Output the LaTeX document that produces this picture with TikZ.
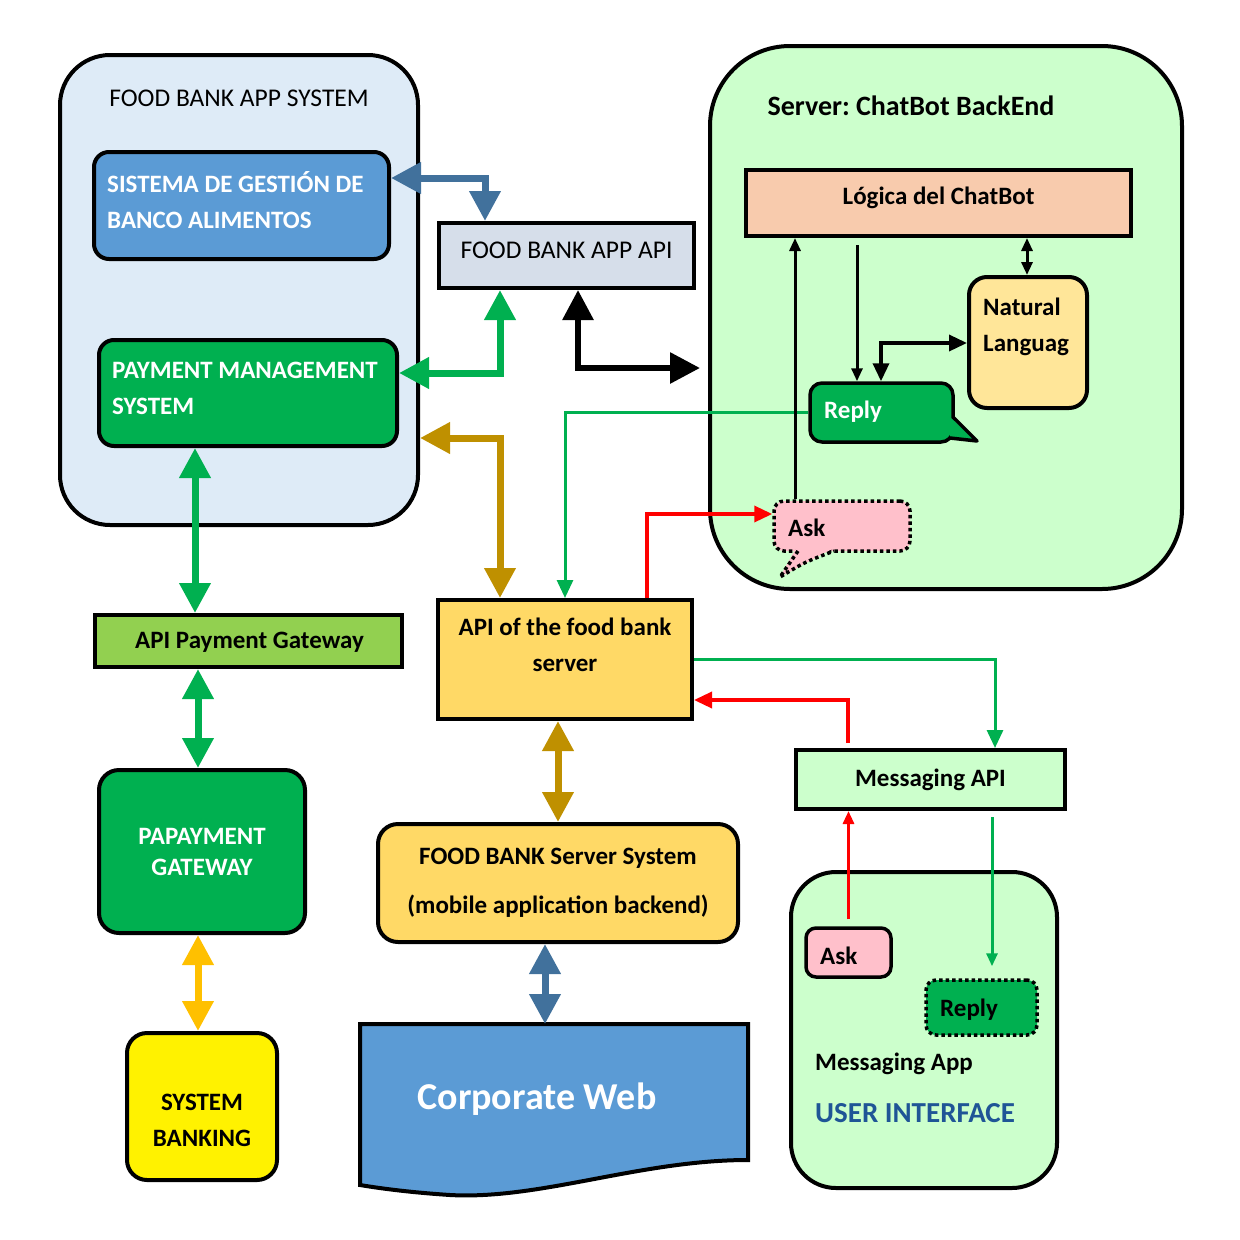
\documentclass[tikz,border=0pt]{standalone}
\usepackage{fontspec}
\setmainfont{Carlito}
\frenchspacing
\usetikzlibrary{arrows.meta}

\definecolor{appback}{RGB}{222,235,247}
\definecolor{chatback}{RGB}{204,255,204}
\definecolor{sysblue}{RGB}{91,155,213}
\definecolor{paygreen}{RGB}{0,176,80}
\definecolor{apigrey}{RGB}{214,222,234}
\definecolor{peach}{RGB}{248,203,173}
\definecolor{nlpyellow}{RGB}{255,230,153}
\definecolor{srvgold}{RGB}{255,217,102}
\definecolor{lime}{RGB}{146,208,80}
\definecolor{askpink}{RGB}{255,192,203}
\definecolor{linkblue}{RGB}{65,113,156}
\definecolor{linkgold}{RGB}{191,144,0}
\definecolor{linkyellow}{RGB}{255,192,0}
\definecolor{uiblue}{RGB}{31,85,150}

\begin{document}
\begin{tikzpicture}[x=1pt,y=-1pt,
  block/.style={draw,line width=4pt,inner sep=0pt},
  lbl/.style={inner sep=0pt,font=\fontsize{25}{36}\selectfont\bfseries},
  plain/.style={inner sep=0pt,font=\fontsize{25.5}{36}\selectfont},
  dots/.style={line width=3.5pt,dash pattern=on 3.5pt off 3pt},
  fat/.style={line width=7pt,>={Triangle[length=30pt,width=30pt]},<->},
  slim/.style={line width=3.5pt,>={Triangle[length=18pt,width=16pt]},->},
  fine/.style={line width=3pt,>={Triangle[length=13pt,width=11pt]},->}]
  \useasboundingbox (0,0) rectangle (1240,1240);

  \node[block,rounded corners=50pt,fill=appback,minimum width=358pt,minimum height=470pt] (appsys) at (239,290) {};
  \node[plain] (appsystxt) at (239,98) {FOOD BANK APP SYSTEM};
  \node[block,rounded corners=80pt,fill=chatback,minimum width=472pt,minimum height=543pt] (chatsrv) at (946,317.5) {};
  \node[lbl,font=\fontsize{28}{36}\selectfont\bfseries] (chatsrvtxt) at (911,106) {Server: ChatBot BackEnd};
  \node[block,rounded corners=45pt,fill=chatback,minimum width=266pt,minimum height=316pt] (msgapp) at (924,1030) {};
  \node[lbl,anchor=west] (msgapptxt) at (815,1064) {Messaging App};
  \node[lbl,anchor=west,text=uiblue,font=\fontsize{29}{30}\selectfont\bfseries] (uitxt) at (815,1113) {USER INTERFACE};

  \node[block,rounded corners=15pt,fill=sysblue,minimum width=295pt,minimum height=107pt] (sistema) at (241.5,205.5) {};
  \node[lbl,anchor=west,align=left,text=white] (sistematxt) at (107,200) {SISTEMA DE GESTIÓN DE\\BANCO ALIMENTOS};
  \node[block,rounded corners=15pt,fill=paygreen,minimum width=298pt,minimum height=106pt] (paymgmt) at (248,393) {};
  \node[lbl,anchor=west,align=left,text=white] (paymgmttxt) at (112,388) {PAYMENT MANAGEMENT\\SYSTEM};
  \node[block,fill=apigrey,minimum width=255pt,minimum height=65pt] (appapi) at (566.5,255.5) {};
  \node[plain] (appapitxt) at (566.5,250) {FOOD BANK APP API};

  \node[block,fill=peach,minimum width=385pt,minimum height=66pt] (logica) at (938.5,203) {};
  \node[lbl] (logicatxt) at (938.5,198) {Lógica del ChatBot};
  \node[block,rounded corners=18pt,fill=nlpyellow,minimum width=118pt,minimum height=131pt] (natural) at (1028,342.5) {};
  \node[lbl,anchor=west,align=left] (naturaltxt) at (983,327) {Natural\\Languag};
  \node[block,line width=3.5pt,rounded corners=12pt,fill=paygreen,minimum width=143pt,minimum height=59pt] (reply) at (881.5,412.5) {};
  \fill[paygreen] (950,417) -- (977,441) -- (951,438) -- (947,430) -- cycle;
  \draw[line width=3.5pt,line join=round] (953,417) -- (977,441) -- (950,438);
  \node[lbl,anchor=west,text=white] (replytxt) at (824,412) {Reply};
  \node[block,dots,rounded corners=10pt,fill=askpink,minimum width=136pt,minimum height=50pt] (ask) at (842,526) {};
  \fill[askpink] (796,548) -- (780,577) -- (834,548) -- cycle;
  \draw[dots] (798,551) -- (780,577) .. controls (805,562) .. (834,551);
  \node[lbl,anchor=west] (asktxt) at (788,528) {Ask};

  \node[block,fill=srvgold,minimum width=254pt,minimum height=119pt] (apisrv) at (565,659.5) {};
  \node[lbl,align=center] (apisrvtxt) at (565,645) {API of the food bank\\server};
  \node[block,fill=lime,minimum width=307pt,minimum height=52pt] (paygw) at (248.5,641) {};
  \node[lbl] (paygwtxt) at (249.5,642) {API Payment Gateway};
  \node[block,rounded corners=20pt,fill=paygreen,minimum width=206pt,minimum height=163pt,lbl,align=center,text=white,font=\fontsize{25}{31}\selectfont\bfseries] (papay) at (202,851.5) {PAPAYMENT\\GATEWAY};
  \node[block,rounded corners=20pt,fill=yellow,minimum width=150pt,minimum height=147pt] (banking) at (202,1106.5) {};
  \node[lbl,align=center] (bankingtxt) at (202,1120) {SYSTEM\\BANKING};
  \node[block,rounded corners=20pt,fill=srvgold,minimum width=360pt,minimum height=118pt,lbl,align=center,font=\fontsize{25}{49}\selectfont\bfseries] (srvsys) at (558,883) {FOOD BANK Server System\\(mobile application backend)};
  \draw[line width=4pt,fill=sysblue] (360,1024) -- (748,1024) -- (748,1160)
    .. controls (640,1160) and (540,1200) .. (450,1195)
    .. controls (420,1193) and (390,1190) .. (360,1185) -- cycle;
  \coordinate (corptop) at (545,1024);
  \node[lbl,text=white,font=\fontsize{38}{40}\selectfont\bfseries] (corptxt) at (537,1099) {Corporate Web};

  \node[block,fill=chatback,minimum width=269pt,minimum height=59pt,lbl] (msgapi) at (930.5,779.5) {Messaging API};
  \node[block,line width=3.5pt,rounded corners=10pt,fill=askpink,minimum width=85pt,minimum height=49pt] (askb) at (848.5,952.5) {};
  \node[lbl,anchor=west] (askbtxt) at (820,956) {Ask};
  \node[block,dots,rounded corners=10pt,fill=paygreen,minimum width=111pt,minimum height=55pt] (replyb) at (981.5,1007.5) {};
  \node[lbl,anchor=west] (replybtxt) at (940,1010) {Reply};

  \coordinate (b1) at (485,178);
  \coordinate (b2) at (500,373);
  \coordinate (b3) at (578,368);
  \coordinate (b4) at (500,438);
  \coordinate (b5) at (647,514);
  \coordinate (c1) at (795,370);
  \coordinate (c2) at (857,300);
  \coordinate (c3) at (881,343);
  \coordinate (c4) at (1027,260);
  \coordinate (c5) at (995,659);
  \coordinate (c6) at (848,700);
  \coordinate (c7) at (992,900);
  \coordinate (c8) at (195,530);
  \coordinate (c9) at (198,720);

  \draw[fat,linkblue] (sistema.east |- b1) -| (appapi.north -| b1);
  \draw[fat,paygreen] (paymgmt.east |- b2) -| (appapi.south -| b2);
  \draw[fat,black,line width=6pt] (appapi.south -| b3) |- ([xshift=-8pt]chatsrv.west |- b3);
  \draw[fat,linkgold] (appsys.east |- b4) -| (apisrv.north -| b4);
  \draw[fat,paygreen] (paymgmt.south -| c8) -- (paygw.north -| c8);
  \draw[fat,paygreen] (paygw.south -| c9) -- (papay.north -| c9);
  \draw[fat,linkyellow] (papay.south -| c9) -- (banking.north -| c9);
  \draw[fat,linkgold] (srvsys.north |- apisrv.south) -- (srvsys.north);
  \draw[fat,linkblue] (srvsys.south -| corptop) -- (corptop);

  \draw[slim,paygreen,line width=3pt] (reply.west) -| (apisrv.north);
  \draw[slim,red] (apisrv.north -| b5) |- (ask.west |- b5);
  \draw[slim,paygreen,line width=3pt] (apisrv.east |- c5) -| (msgapi.north -| c5);
  \draw[slim,red] ([yshift=5pt]msgapi.north -| c6) |- (apisrv.east |- c6);
  \draw[fine,red] ([yshift=7pt]askb.north) -- (askb.north |- msgapi.south);
  \draw[fine,paygreen] ([yshift=-6pt]msgapi.south -| c7) -- ([yshift=12pt]replyb.north -| c7);

  \draw[fine] (ask.north -| c1) -- (logica.south -| c1);
  \draw[fine] ([yshift=-7pt]logica.south -| c2) -- (reply.north -| c2);
  \draw[fine,<->,line width=3.5pt,>={Triangle[length=18pt,width=16pt]}] (reply.north -| c3) |- (natural.west |- c3);
  \draw[fine,<->] (logica.south -| c4) -- (natural.north -| c4);
\end{tikzpicture}
\end{document}
